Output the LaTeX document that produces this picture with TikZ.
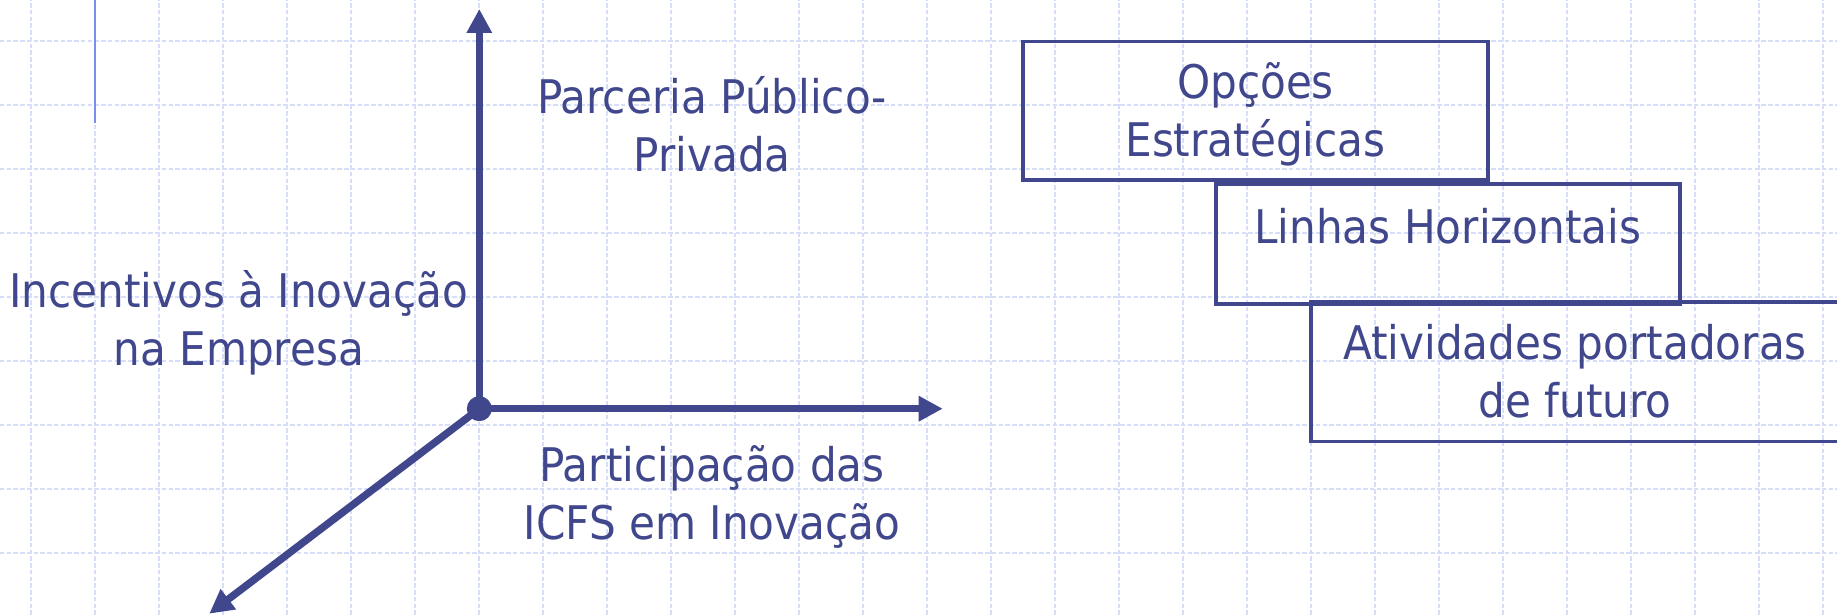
\documentclass[tikz,border=0pt]{standalone}
\usepackage{fontspec}
\setmainfont{DejaVu Sans}[FakeStretch=0.91]
\usepackage{xcolor}
\usetikzlibrary{arrows.meta}

\definecolor{azulEscuro}{RGB}{64,71,140}
\definecolor{azulGrade}{RGB}{214,222,250}
\definecolor{azulClaro}{RGB}{122,142,240}

\begin{document}
\begin{tikzpicture}[
    >={Triangle[length=3.75mm, width=3.75mm]},
    eixo/.style={draw=azulEscuro, line width=3.3pt},
    grade/.style={draw=azulGrade, line width=0.6pt, dash pattern=on 2pt off 1pt},
    rotulo/.style={text=azulEscuro, align=center, inner sep=0pt, font=\fontsize{20.6}{25.8}\selectfont},
    caixa/.style={draw=azulEscuro, line width=1.6pt, inner sep=0pt}
]

% Background :
\fill[white] (0,0) rectangle (28.703,9.609);
\useasboundingbox (0,0) rectangle (28.703,9.609);
\draw[grade, xshift=0.484cm, yshift=0.969cm] (-0.484,-0.969) grid (28.219,8.64);
\draw[azulClaro, line width=0.9pt] (1.484,9.609) -- (1.484,7.688);

% Nodes :
\node[circle, fill=azulEscuro, inner sep=0pt, minimum size=3.9mm] (origem) at (7.489,3.223) {};
\coordinate (topo) at (7.489,9.469);
\coordinate (direita) at (14.73,3.223);
\coordinate (baixo) at (3.27,0.02);

\node[rotulo, anchor=base] (parceria) at (11.125,6.922) {Parceria Público-\\Privada};
\node[rotulo, anchor=base] (incentivos) at (3.73,3.891) {Incentivos à Inovação\\na Empresa};
\node[rotulo, anchor=base] (participacao) at (11.125,1.172) {Participação das\\ICFS em Inovação};

\node[caixa, minimum width=7.266cm, minimum height=2.161cm] (opcoes) at (19.617,7.878) {};
\node[caixa, minimum width=7.255cm, minimum height=1.875cm] (linhas) at (22.623,5.793) {};
\node[caixa, minimum width=8.25cm, minimum height=2.178cm] (atividades) at (24.609,3.797) {};

\node[rotulo, anchor=base] (txtOpcoes) at (19.617,7.161) {Opções\\Estratégicas};
\node[rotulo, anchor=base] (txtLinhas) at (22.623,5.808) {Linhas Horizontais};
\node[rotulo, anchor=base] (txtAtividades) at (24.609,3.078) {Atividades portadoras\\de futuro};

% Edges :
\draw[eixo, ->] (origem.center) -- (topo);
\draw[eixo, ->] (origem.center) -- (direita);
\draw[eixo, ->] (origem.center) -- (baixo);

\end{tikzpicture}
\end{document}
